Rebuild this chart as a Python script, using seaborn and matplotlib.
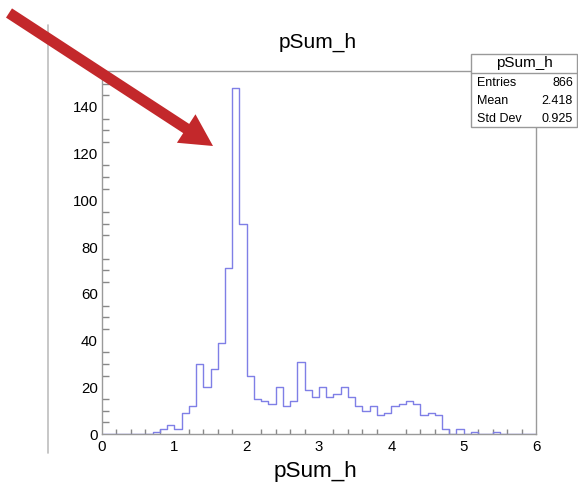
import numpy as np
import pandas as pd
import matplotlib
matplotlib.use("Agg")
import matplotlib.pyplot as plt
from matplotlib.patches import FancyArrow, Rectangle
from matplotlib.lines import Line2D
from matplotlib.transforms import IdentityTransform
from matplotlib.ticker import MultipleLocator
import seaborn as sns

# ---- data ----
bin_lows = [0.7, 0.8, 0.9, 1.0, 1.1, 1.2, 1.3, 1.4, 1.5, 1.6, 1.7, 1.8, 1.9,
            2.0, 2.1, 2.2, 2.3, 2.4, 2.5, 2.6, 2.7, 2.8, 2.9, 3.0, 3.1, 3.2,
            3.3, 3.4, 3.5, 3.6, 3.7, 3.8, 3.9, 4.0, 4.1, 4.2, 4.3, 4.4, 4.5,
            4.6, 4.7, 4.8, 4.9, 5.0, 5.1, 5.2, 5.3, 5.4]
counts = [1, 2, 4, 2, 9, 12, 30, 20, 28, 39, 71, 148, 90,
          25, 15, 14, 13, 20, 12, 14, 31, 19, 16, 20, 16, 17,
          20, 16, 12, 10, 12, 8, 9, 12, 13, 14, 13, 8, 9,
          8, 2, 0, 2, 0, 1, 0, 0, 1]
x_ticks = [0, 1, 2, 3, 4, 5, 6]
y_ticks = [0, 20, 40, 60, 80, 100, 120, 140]
title = "pSum_h"
stats_labels = ["Entries", "Mean", "Std Dev"]
stats_values = ["866", "2.418", "0.925"]

sns.set_style("white")
plt.rcParams["font.family"] = ["Liberation Sans", "DejaVu Sans"]
plt.rcParams["text.color"] = "black"

W, H = 578, 486
fig = plt.figure(figsize=(W / 100, H / 100), dpi=100)
ax = fig.add_axes([102 / W, 1 - 434 / H, (536 - 102) / W, (434 - 71) / H])

df = pd.DataFrame({"x": np.array(bin_lows) + 0.05, "w": counts})
sns.histplot(data=df, x="x", weights="w", binwidth=0.1, binrange=(0, 6),
             element="step", fill=False, color="#7f7fe6", linewidth=1.0, ax=ax)

ax.set_xlim(0, 6)
ax.set_ylim(0, 155.4)
ax.set_xticks(x_ticks)
ax.set_yticks(y_ticks)
ax.xaxis.set_minor_locator(MultipleLocator(0.2))
ax.yaxis.set_minor_locator(MultipleLocator(5))
ax.set_xlabel("")
ax.set_ylabel("")
ax.tick_params(axis="both", which="both", direction="in", colors="#888888",
               labelcolor="black", labelsize=10.8, width=1)
ax.tick_params(axis="y", which="major", length=9.4, pad=3)
ax.tick_params(axis="y", which="minor", length=5, left=True)
ax.tick_params(axis="x", which="major", length=8, pad=4)
ax.tick_params(axis="x", which="minor", length=3.6, bottom=True)
for s in ax.spines.values():
    s.set_color("#9a9a9a")
    s.set_linewidth(1.0)

# title and x label
fig.text(318 / W, 1 - 42 / H, title, ha="center", va="center", fontsize=15,
         color="black")
fig.text(315 / W, 1 - 471 / H, title, ha="center", va="center", fontsize=16.2,
         color="black")

ident = IdentityTransform()

def py(y):
    return H - y

# canvas edge line
fig.add_artist(Line2D([48, 48], [py(25), py(453)], transform=ident,
                      color="#bdbdbd", linewidth=1.2))

# stats box
bx0, bx1, by0, by1 = 471, 577, 54, 127
fig.add_artist(Rectangle((bx0, py(by1)), bx1 - bx0, by1 - by0, transform=ident,
                         facecolor="white", edgecolor="#999999", linewidth=1.0,
                         zorder=5))
fig.add_artist(Line2D([bx0, bx1], [py(73), py(73)], transform=ident,
                      color="#999999", linewidth=1.0, zorder=6))
fig.text((bx0 + bx1) / 2 / W, 1 - 63.5 / H, title, ha="center", va="center",
         fontsize=11, zorder=7, color="black")
for i, (lab, val) in enumerate(zip(stats_labels, stats_values)):
    yy = 83 + i * 18
    fig.text(477 / W, 1 - yy / H, lab, ha="left", va="center", fontsize=9,
             zorder=7, color="black")
    fig.text(573 / W, 1 - yy / H, val, ha="right", va="center", fontsize=9,
             zorder=7, color="black")

# red arrow
tail = (9, py(13))
tip = (213, py(146))
fig.add_artist(FancyArrow(tail[0], tail[1], tip[0] - tail[0], tip[1] - tail[1],
                          width=11, head_width=34, head_length=32,
                          length_includes_head=True, transform=ident,
                          color="#c3282b", linewidth=0, zorder=10))

fig.savefig("out.png", dpi=100)
